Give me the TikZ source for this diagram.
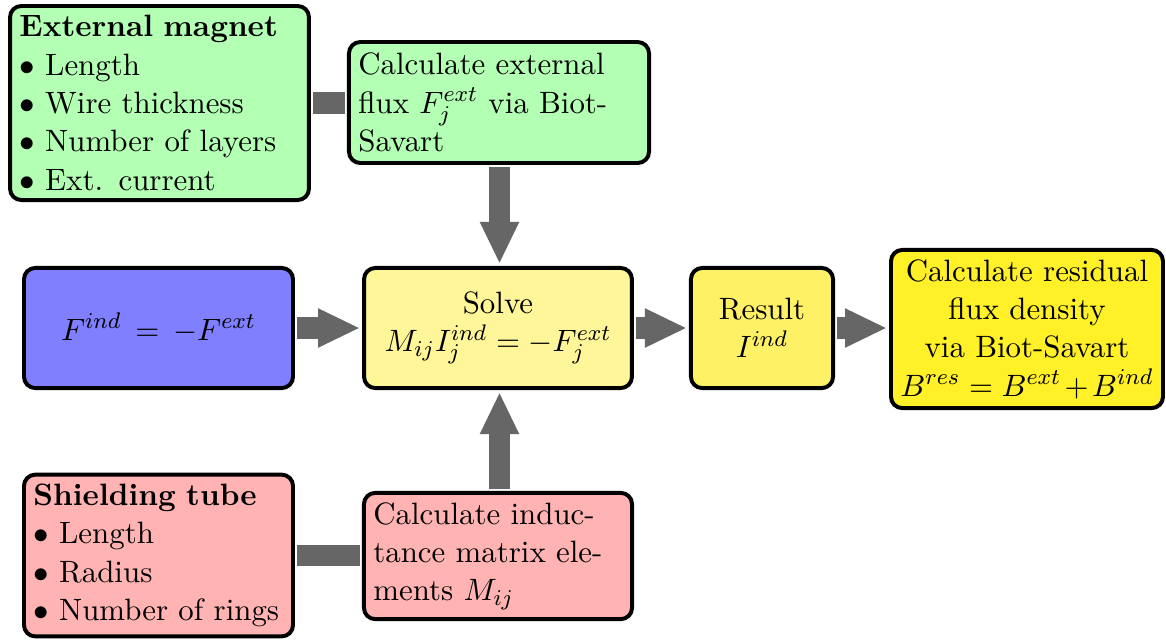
\documentclass[11pt,tikz,border=0pt]{standalone}
\usetikzlibrary{arrows.meta}

\definecolor{magnetgreen}{RGB}{179,255,179}
\definecolor{fluxblue}{RGB}{128,128,255}
\definecolor{tubered}{RGB}{255,179,179}
\definecolor{solveyellow}{RGB}{255,246,153}
\definecolor{resultyellow}{RGB}{255,241,102}
\definecolor{residualyellow}{RGB}{255,240,40}
\definecolor{flowgray}{RGB}{102,102,102}

\tikzset{
  box/.style={draw=black, line width=1.4pt, rounded corners=4pt, inner sep=3.33pt},
  flowline/.style={draw=flowgray, line width=7.6pt},
  flowarrow/.style={flowline, -{Triangle[length=14.9pt,width=12.8pt]},
    shorten >=0.7pt, shorten <=0.7pt},
}

\begin{document}
\begin{tikzpicture}[x=0.3546pt, y=-0.3546pt]
  \useasboundingbox (0,0) rectangle (1166,643);

  % input blocks
  \node[box, fill=magnetgreen, minimum width=106pt, minimum height=68.8pt,
        text width=99.3pt, align=left] (magnet) at (159.5,103)
    {\textbf{External magnet}\\
     $\bullet$ Length\\
     $\bullet$ Wire thickness\\
     $\bullet$ Number of layers\\
     $\bullet$ Ext. current};

  \node[box, fill=magnetgreen, minimum width=106.4pt, minimum height=42.9pt,
        text width=99.7pt, align=left] (extflux) at (499,102.5)
    {Calculate external\\
     flux $F_j^{ext}$ via Biot-\\
     Savart};

  \node[box, fill=fluxblue, minimum width=95.4pt, minimum height=42.6pt,
        align=center] (indflux) at (158.5,328)
    {$F^{ind}\,=\,-F^{ext}$};

  \node[box, fill=solveyellow, minimum width=95pt, minimum height=42.6pt,
        align=center] (solve) at (498,328)
    {Solve\\
     $M_{ij}I_j^{ind} = -F_j^{ext}$};

  \node[box, fill=resultyellow, minimum width=50.4pt, minimum height=42.6pt,
        align=center] (result) at (762,328)
    {Result\\
     $I^{ind}$};

  \node[box, fill=residualyellow, minimum width=95pt, minimum height=56pt,
        align=center] (residual) at (1027,329)
    {Calculate residual\\
     flux density\\
     via Biot-Savart\\
     $B^{res} = B^{ext}\mskip-2mu+\mskip-2mu B^{ind}$};

  \node[box, fill=tubered, minimum width=95.4pt, minimum height=57.1pt,
        text width=88.7pt, align=left] (tube) at (158.5,555.5)
    {\textbf{Shielding tube}\\
     $\bullet$ Length\\
     $\bullet$ Radius\\
     $\bullet$ Number of rings};

  \node[box, fill=tubered, minimum width=95pt, minimum height=44.7pt,
        text width=88.4pt, align=left] (induct) at (498,556)
    {Calculate induc-\\
     tance matrix ele-\\
     ments $M_{ij}$};

  % connectors
  \draw[flowline, shorten >=0.7pt, shorten <=0.7pt]
    (magnet.east) -- (magnet.east -| extflux.west);
  \draw[flowline, shorten >=0.7pt, shorten <=0.7pt]
    (tube.east) -- (tube.east -| induct.west);

  \draw[flowarrow] (extflux.south -| solve.north) ++(1.5,0) coordinate (dtop)
    (dtop) -- (dtop |- solve.north);
  \draw[flowarrow] (induct.north) ++(1.5,0) coordinate (ubot)
    (ubot) -- (ubot |- solve.south);
  \draw[flowarrow] (indflux.east) -- (indflux.east -| solve.west);
  \draw[flowarrow] (solve.east) -- (solve.east -| result.west);
  \draw[flowarrow] (result.east) -- (result.east -| residual.west);
\end{tikzpicture}
\end{document}
